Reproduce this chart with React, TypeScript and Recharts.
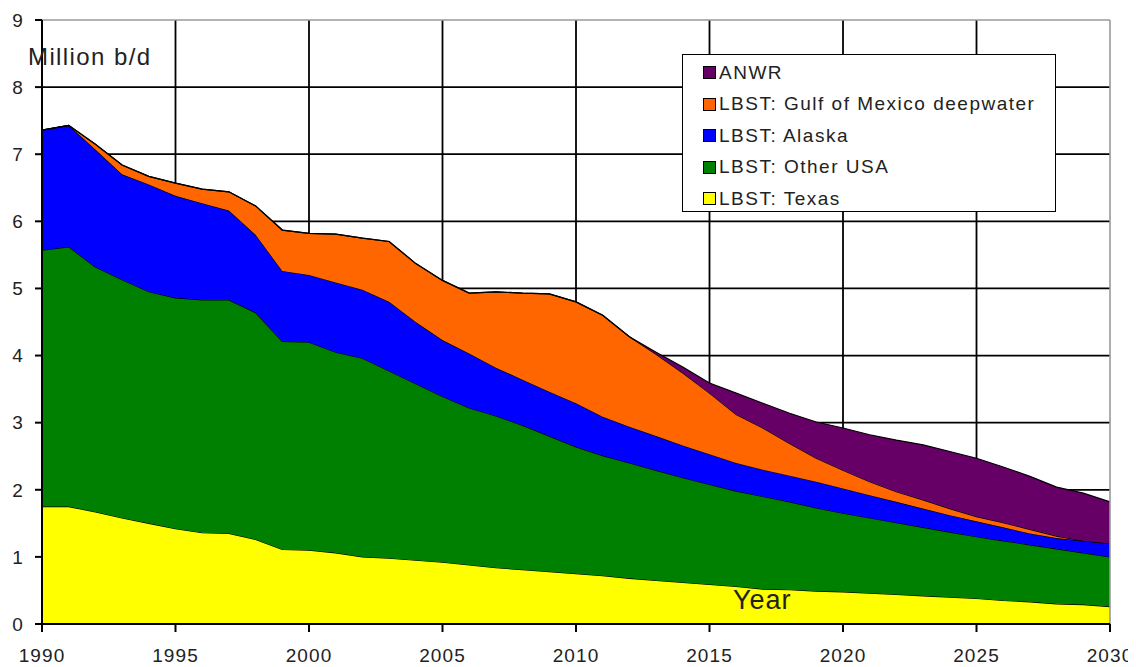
import React from 'react';
import { AreaChart, Area, XAxis, YAxis, CartesianGrid, ReferenceLine } from 'recharts';

const years = [1990, 1991, 1992, 1993, 1994, 1995, 1996, 1997, 1998, 1999, 2000, 2001, 2002, 2003, 2004, 2005, 2006, 2007, 2008, 2009, 2010, 2011, 2012, 2013, 2014, 2015, 2016, 2017, 2018, 2019, 2020, 2021, 2022, 2023, 2024, 2025, 2026, 2027, 2028, 2029, 2030];

const texas = [1.75, 1.75, 1.67, 1.58, 1.5, 1.42, 1.36, 1.35, 1.26, 1.11, 1.1, 1.06, 1.0, 0.98, 0.95, 0.92, 0.88, 0.84, 0.81, 0.78, 0.75, 0.72, 0.68, 0.65, 0.62, 0.59, 0.56, 0.52, 0.51, 0.49, 0.48, 0.46, 0.44, 0.42, 0.4, 0.38, 0.35, 0.33, 0.3, 0.29, 0.26];

const otherUsa = [3.82, 3.87, 3.65, 3.55, 3.45, 3.44, 3.47, 3.48, 3.38, 3.1, 3.1, 2.99, 2.96, 2.79, 2.63, 2.47, 2.34, 2.26, 2.15, 2.02, 1.89, 1.79, 1.72, 1.64, 1.56, 1.49, 1.42, 1.38, 1.31, 1.24, 1.17, 1.12, 1.07, 1.02, 0.97, 0.92, 0.89, 0.85, 0.82, 0.77, 0.74];

const alaska = [1.79, 1.81, 1.75, 1.57, 1.6, 1.52, 1.44, 1.33, 1.16, 1.05, 1.0, 1.04, 1.02, 1.03, 0.92, 0.84, 0.81, 0.72, 0.68, 0.66, 0.65, 0.58, 0.54, 0.51, 0.48, 0.45, 0.42, 0.4, 0.39, 0.39, 0.37, 0.34, 0.31, 0.28, 0.25, 0.23, 0.2, 0.17, 0.16, 0.18, 0.2];

const gulf = [0, 0, 0.08, 0.14, 0.12, 0.19, 0.21, 0.28, 0.43, 0.61, 0.62, 0.72, 0.77, 0.9, 0.87, 0.89, 0.9, 1.13, 1.29, 1.46, 1.51, 1.51, 1.34, 1.22, 1.08, 0.91, 0.72, 0.62, 0.48, 0.35, 0.27, 0.2, 0.15, 0.13, 0.1, 0.07, 0.07, 0.06, 0.03, 0, 0];

const anwr = [0, 0, 0, 0, 0, 0, 0, 0, 0, 0, 0, 0, 0, 0, 0, 0, 0, 0, 0, 0, 0, 0, 0, 0.03, 0.09, 0.15, 0.32, 0.37, 0.45, 0.54, 0.63, 0.7, 0.77, 0.82, 0.85, 0.87, 0.83, 0.79, 0.73, 0.71, 0.62];

const xTicks = [1990, 1995, 2000, 2005, 2010, 2015, 2020, 2025, 2030];
const yTicks = [0, 1, 2, 3, 4, 5, 6, 7, 8, 9];

const seriesKeys = ['texas', 'otherUsa', 'alaska', 'gulf', 'anwr'];
const seriesNames = ['LBST: Texas', 'LBST: Other USA', 'LBST: Alaska', 'LBST: Gulf of Mexico deepwater', 'ANWR'];
const seriesColors = ['#FFFF00', '#008000', '#0000FF', '#FF6600', '#660066'];

const yAxisLabel = 'Million b/d';
const xAxisLabel = 'Year';

const data = years.map((year, i) => ({
  year,
  texas: texas[i],
  otherUsa: otherUsa[i],
  alaska: alaska[i],
  gulf: gulf[i],
  anwr: anwr[i],
}));

const FONT = '"Liberation Sans", Arial, sans-serif';
const W = 1128;
const H = 659;

const LegendBox = () => {
  const order = [4, 3, 2, 1, 0];
  return (
    <div
      style={{
        position: 'absolute',
        left: 674,
        top: 46,
        width: 374,
        height: 158,
        border: '1.5px solid #000',
        background: '#fff',
        boxSizing: 'border-box',
        paddingTop: 2,
        fontFamily: FONT,
      }}
    >
      {order.map((idx) => (
        <div
          key={seriesKeys[idx]}
          style={{ height: 31.5, display: 'flex', alignItems: 'center', paddingLeft: 20 }}
        >
          <span
            style={{
              display: 'inline-block',
              width: 11,
              height: 11,
              background: seriesColors[idx],
              border: '1.5px solid #000',
              marginRight: 3,
            }}
          />
          <span style={{ fontSize: 19, letterSpacing: 1.5, color: '#222' }}>{seriesNames[idx]}</span>
        </div>
      ))}
    </div>
  );
};

export default function App() {
  return (
    <div style={{ position: 'relative', width: W, height: H }}>
      <AreaChart
        width={W}
        height={H}
        data={data}
        margin={{ top: 12, right: 26, bottom: 13, left: 0 }}
      >
        <CartesianGrid
          stroke="#000"
          strokeWidth={1.8}
          horizontalValues={[1, 2, 3, 4, 5, 6, 7, 8]}
          verticalValues={[1995, 2000, 2005, 2010, 2015, 2020, 2025]}
        />
        <ReferenceLine y={9} stroke="#9a9a9a" strokeWidth={1.6} />
        <ReferenceLine x={2030} stroke="#9a9a9a" strokeWidth={1.6} />
        <XAxis
          dataKey="year"
          type="number"
          domain={[1990, 2030]}
          ticks={xTicks}
          interval={0}
          height={30}
          tickSize={8}
          tickMargin={17}
          axisLine={{ stroke: '#000', strokeWidth: 2 }}
          tickLine={{ stroke: '#000', strokeWidth: 2 }}
          tick={{ fontSize: 19, fill: '#222', fontFamily: FONT, letterSpacing: 1.1 }}
        />
        <YAxis
          type="number"
          domain={[0, 9]}
          ticks={yTicks}
          interval={0}
          width={34}
          tickSize={7}
          tickMargin={11}
          axisLine={{ stroke: '#000', strokeWidth: 2 }}
          tickLine={{ stroke: '#000', strokeWidth: 2 }}
          tick={{ fontSize: 19, fill: '#222', fontFamily: FONT, letterSpacing: 1.1 }}
        />
        {seriesKeys.map((k, i) => (
          <Area
            key={k}
            type="linear"
            dataKey={k}
            name={seriesNames[i]}
            stackId="1"
            stroke="#000"
            strokeWidth={1.2}
            fill={seriesColors[i]}
            fillOpacity={1}
            isAnimationActive={false}
            dot={false}
            activeDot={false}
          />
        ))}
      </AreaChart>
      <LegendBox />
      <svg
        width={W}
        height={H}
        style={{ position: 'absolute', left: 0, top: 0, pointerEvents: 'none' }}
      >
        <text x={20} y={57} fontSize={24} fontFamily={FONT} fill="#222" letterSpacing={1.4}>
          {yAxisLabel}
        </text>
        <text x={725} y={601} fontSize={27} fontFamily={FONT} fill="#222" letterSpacing={1}>
          {xAxisLabel}
        </text>
      </svg>
    </div>
  );
}
